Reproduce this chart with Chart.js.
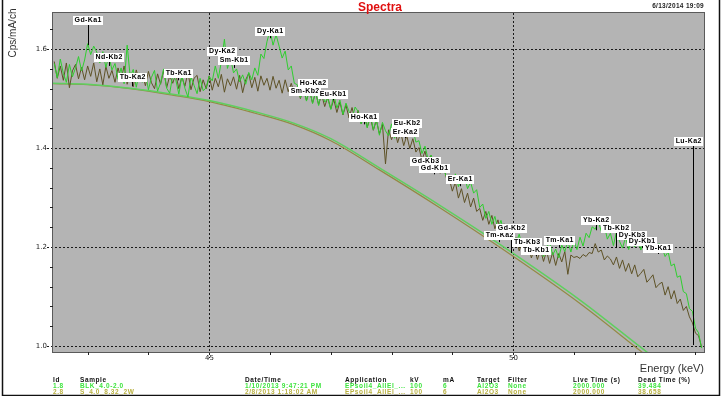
<!DOCTYPE html>
<html><head><meta charset="utf-8">
<script src="https://cdn.jsdelivr.net/npm/chart.js@4/dist/chart.umd.min.js"></script>
<style>html,body{margin:0;padding:0;background:#fff;}#wrap{width:721px;height:396px;position:relative;}</style>
</head><body><div id="wrap"><canvas id="c" width="721" height="396"></canvas></div>
<script>
// ---- data ----
const channelStart = 42.45, channelStep = 0.05; // spectrometer energy calibration (keV)
const blkCounts = [
1.571,1.542,1.580,1.551,1.533,1.569,1.544,1.562,1.585,1.556,
1.578,1.611,1.589,1.606,1.594,1.572,1.595,1.563,1.587,1.558,
1.571,1.539,1.562,1.530,1.608,1.544,1.559,1.523,1.552,1.533,
1.551,1.518,1.543,1.557,1.515,1.532,1.560,1.521,1.511,1.547,
1.538,1.509,1.546,1.521,1.503,1.544,1.527,1.510,1.541,1.516,
1.522,1.545,1.536,1.566,1.541,1.575,1.620,1.561,1.583,1.552,
1.560,1.534,1.548,1.529,1.553,1.538,1.562,1.547,1.590,1.581,
1.615,1.638,1.608,1.629,1.606,1.582,1.596,1.558,1.566,1.531,
1.528,1.502,1.523,1.495,1.519,1.490,1.514,1.486,1.517,1.493,
1.500,1.478,1.508,1.481,1.497,1.468,1.491,1.474,1.459,1.483,
1.474,1.449,1.466,1.441,1.470,1.437,1.459,1.426,1.452,1.435,
1.425,1.449,1.420,1.442,1.455,1.438,1.458,1.433,1.440,1.412,
1.415,1.389,1.404,1.378,1.386,1.368,1.377,1.351,1.359,1.343,
1.345,1.329,1.348,1.322,1.338,1.344,1.318,1.331,1.309,1.316,
1.280,1.287,1.258,1.272,1.246,1.262,1.237,1.254,1.229,1.245,
1.221,1.232,1.209,1.226,1.201,1.218,1.192,1.213,1.188,1.204,
1.206,1.181,1.199,1.210,1.184,1.196,1.178,1.204,1.191,1.212,
1.190,1.213,1.195,1.220,1.202,1.228,1.219,1.241,1.236,1.252,
1.232,1.244,1.216,1.228,1.203,1.231,1.212,1.198,1.220,1.195,
1.214,1.200,1.219,1.194,1.212,1.206,1.188,1.214,1.192,1.207,
1.199,1.181,1.190,1.162,1.166,1.139,1.142,1.110,1.106,1.076,
1.070,1.036,1.027,0.996];
const sampleCounts = [
1.575,1.541,1.566,1.537,1.572,1.522,1.556,1.569,1.540,1.563,
1.538,1.566,1.545,1.572,1.534,1.560,1.528,1.565,1.541,1.557,
1.533,1.562,1.539,1.566,1.529,1.552,1.524,1.558,1.535,1.551,
1.526,1.555,1.532,1.520,1.550,1.529,1.557,1.522,1.546,1.531,
1.550,1.520,1.544,1.525,1.553,1.518,1.541,1.547,1.514,1.538,
1.520,1.546,1.517,1.541,1.524,1.549,1.513,1.540,1.526,1.544,
1.519,1.547,1.512,1.538,1.551,1.522,1.543,1.515,1.546,1.527,
1.541,1.517,1.545,1.521,1.537,1.511,1.538,1.514,1.531,1.508,
1.524,1.500,1.520,1.496,1.517,1.491,1.512,1.488,1.508,1.484,
1.503,1.479,1.498,1.472,1.493,1.467,1.487,1.461,1.482,1.456,
1.476,1.449,1.468,1.442,1.462,1.436,1.456,1.429,1.448,1.368,
1.437,1.417,1.438,1.411,1.432,1.405,1.425,1.399,1.419,1.392,
1.401,1.376,1.394,1.367,1.385,1.358,1.376,1.349,1.367,1.340,
1.338,1.313,1.331,1.299,1.318,1.290,1.309,1.281,1.299,1.272,
1.278,1.254,1.272,1.246,1.264,1.237,1.255,1.229,1.247,1.221,
1.225,1.200,1.219,1.192,1.212,1.185,1.204,1.178,1.197,1.175,
1.195,1.171,1.192,1.167,1.189,1.163,1.187,1.170,1.191,1.145,
1.184,1.179,1.181,1.177,1.185,1.181,1.189,1.187,1.207,1.190,
1.194,1.174,1.182,1.176,1.164,1.180,1.157,1.174,1.151,1.167,
1.146,1.164,1.140,1.147,1.155,1.129,1.136,1.144,1.118,1.125,
1.129,1.103,1.120,1.095,1.112,1.086,1.095,1.072,1.080,1.059,
1.047,1.026,1.021,0.998];
const bgEnergy = [42.43,43.0,43.7,44.4,45.0,45.8,46.4,47.0,47.8,48.8,49.8,51.1,52.2,53.2];
const bgBlk    = [1.531,1.529,1.521,1.509,1.496,1.472,1.450,1.419,1.360,1.284,1.204,1.093,0.988,0.895];
const bgSample = [1.530,1.528,1.520,1.507,1.494,1.469,1.447,1.415,1.356,1.279,1.198,1.086,0.980,0.885];

const xTickValues = [43,44,45,46,47,48,49,50,51,52,53];
const xLabeled = [45,50];
const yTickValues = [1.00,1.04,1.08,1.12,1.16,1.20,1.24,1.28,1.32,1.36,1.40,1.44,1.48,1.52,1.56,1.60,1.64];
const yLabeled = [1.0,1.2,1.4,1.6];

const peakNames  = ['Gd-Ka1','Nd-Kb2','Tb-Ka2','Tb-Ka1','Dy-Ka2','Sm-Kb1','Dy-Ka1','Sm-Kb2','Ho-Ka2','Eu-Kb1','Ho-Ka1','Eu-Kb2','Er-Ka2','Gd-Kb3','Gd-Kb1','Er-Ka1','Tm-Ka2','Gd-Kb2','Tb-Kb3','Tb-Kb1','Tm-Ka1','Yb-Ka2','Tb-Kb2','Dy-Kb3','Dy-Kb1','Yb-Ka1','Lu-Ka2'];
const peakEnergy = [43.00,43.35,43.73,44.48,45.21,45.41,46.00,46.58,46.70,47.04,47.55,48.26,48.22,48.55,48.70,49.13,49.77,49.97,50.23,50.38,50.76,51.36,51.69,51.96,52.12,52.39,52.965];
const peakLabelLevel = [1.659,1.584,1.543,1.552,1.596,1.578,1.636,1.515,1.531,1.509,1.463,1.451,1.432,1.374,1.360,1.337,1.224,1.238,1.210,1.194,1.214,1.255,1.238,1.224,1.212,1.198,1.414];
const peakLineEnd    = [1.608,1.566,1.525,1.537,1.578,1.562,1.622,1.505,1.521,1.497,1.448,1.440,1.420,1.364,1.347,1.323,1.210,1.188,1.198,1.182,1.200,1.234,1.198,1.202,1.198,1.186,1.002];

const tableHeader = ['Id','Sample','Date/Time','Application','kV','mA','Target','Filter','Live Time (s)','Dead Time (%)'];
const tableRow1 = ['1.8','BLK_4.0-2.0','1/10/2013 9:47:21 PM','EPsoil4_AllEl_...','100','6','Al2O3','None','2000.000','39.484'];
const tableRow2 = ['2.8','S_4.0_8.32_2W','2/8/2013 1:18:02 AM','EPsoil4_AllEl_...','100','6','Al2O3','None','2000.000','38.658'];

// ---- build ----
const energies = blkCounts.map((_, i) => +(channelStart + i * channelStep).toFixed(3));
const pts = (xs, ys) => ys.map((v, i) => ({x: xs[i], y: v}));

const colX = [53,80,245,345,410,443,477,508,573,638];

const deco = {
  id: 'deco',
  beforeDatasetsDraw(chart) {
    const {ctx, chartArea: a, scales: {x, y}} = chart;
    ctx.save();
    ctx.fillStyle = '#b4b4b4';
    ctx.fillRect(a.left, a.top, a.right - a.left, a.bottom - a.top);
    ctx.strokeStyle = '#1a1a1a'; ctx.lineWidth = 1;
    ctx.setLineDash([2, 2]);
    xLabeled.forEach(v => { const p = Math.round(x.getPixelForValue(v)) + 0.5;
      ctx.beginPath(); ctx.moveTo(p, a.top); ctx.lineTo(p, a.bottom + 6); ctx.stroke(); });
    yLabeled.forEach(v => { const p = Math.round(y.getPixelForValue(v)) + 0.5;
      ctx.beginPath(); ctx.moveTo(a.left - 6, p); ctx.lineTo(a.right, p); ctx.stroke(); });
    ctx.setLineDash([]);
    ctx.restore();
  },
  afterDatasetsDraw(chart) {
    const {ctx, chartArea: a, scales: {x, y}} = chart;
    ctx.save();
    ctx.beginPath(); ctx.rect(a.left, a.top, a.right - a.left, a.bottom - a.top); ctx.clip();
    ctx.font = 'bold 7px "Liberation Sans", Arial, sans-serif';
    ctx.letterSpacing = '0.4px';
    ctx.textAlign = 'center'; ctx.textBaseline = 'middle';
    peakNames.forEach((n, i) => {
      const px = Math.round(x.getPixelForValue(peakEnergy[i])) + 0.5;
      const py = Math.round(y.getPixelForValue(peakLabelLevel[i]));
      const pe = y.getPixelForValue(peakLineEnd[i]);
      ctx.strokeStyle = '#000'; ctx.lineWidth = 1;
      ctx.beginPath(); ctx.moveTo(px, py + 4); ctx.lineTo(px, pe); ctx.stroke();
    });
    peakNames.forEach((n, i) => {
      const px = Math.round(x.getPixelForValue(peakEnergy[i]));
      const py = Math.round(y.getPixelForValue(peakLabelLevel[i]));
      const w = Math.round(ctx.measureText(n).width + 3);
      let bx = Math.round(px - w / 2);
      bx = Math.max(a.left + 1, Math.min(bx, a.right - w - 1));
      ctx.fillStyle = '#fff';
      ctx.fillRect(bx, py - 4, w, 9);
      ctx.fillStyle = '#000';
      ctx.fillText(n, bx + w / 2 + 0.2, py + 0.5);
    });
    ctx.restore();
    // plot border
    ctx.save();
    ctx.strokeStyle = '#5a5a5a'; ctx.lineWidth = 1;
    ctx.strokeRect(a.left - 0.5, a.top - 0.5, a.right - a.left + 1, a.bottom - a.top + 1);
    ctx.restore();
  },
  afterDraw(chart) {
    const {ctx, chartArea: a, scales: {x, y}} = chart;
    ctx.save();
    ctx.strokeStyle = '#222'; ctx.lineWidth = 1;
    // minor ticks
    xTickValues.forEach(v => { if (xLabeled.includes(v)) return;
      const p = Math.round(x.getPixelForValue(v)) + 0.5;
      ctx.beginPath(); ctx.moveTo(p, a.bottom); ctx.lineTo(p, a.bottom + 3); ctx.stroke(); });
    yTickValues.forEach(v => { if (yLabeled.some(l => Math.abs(l - v) < 1e-6)) return;
      const p = Math.round(y.getPixelForValue(v)) + 0.5;
      ctx.beginPath(); ctx.moveTo(a.left - 3, p); ctx.lineTo(a.left, p); ctx.stroke(); });
    // tick labels
    ctx.fillStyle = '#222';
    ctx.font = '7px "DejaVu Sans", sans-serif';
    ctx.textAlign = 'right'; ctx.textBaseline = 'middle';
    yLabeled.forEach(v => ctx.fillText(v.toFixed(1), a.left - 6, Math.round(y.getPixelForValue(v)) + 0.5));
    ctx.textAlign = 'center'; ctx.textBaseline = 'top';
    xLabeled.forEach(v => ctx.fillText(String(v), Math.round(x.getPixelForValue(v)) + 0.5, a.bottom + 3));
    // axis titles
    ctx.fillStyle = '#333';
    ctx.font = '11px "Liberation Sans", Arial, sans-serif';
    ctx.textAlign = 'right'; ctx.textBaseline = 'middle';
    ctx.fillText('Energy (keV)', 704, 369);
    ctx.save();
    ctx.translate(13, 33); ctx.rotate(-Math.PI / 2);
    ctx.font = '10px "Liberation Sans", Arial, sans-serif';
    ctx.textAlign = 'center';
    ctx.fillText('Cps/mA/ch', 0, 0);
    ctx.restore();
    // title & date
    ctx.fillStyle = '#e01010';
    ctx.font = 'bold 12px "Liberation Sans", Arial, sans-serif';
    ctx.textAlign = 'center'; ctx.textBaseline = 'alphabetic';
    ctx.fillText('Spectra', 380, 11);
    ctx.fillStyle = '#222';
    ctx.font = 'bold 6.5px "Liberation Sans", Arial, sans-serif';
    ctx.letterSpacing = '0.3px';
    ctx.textAlign = 'right';
    ctx.fillText('6/13/2014 19:09', 704, 8);
    // table
    ctx.textAlign = 'left';
    ctx.font = 'bold 6.5px "Liberation Sans", Arial, sans-serif';
    ctx.letterSpacing = '0.6px';
    const rows = [[tableHeader, '#111', 381.5], [tableRow1, '#3ee43e', 388], [tableRow2, '#b8b040', 394]];
    rows.forEach(([r, c, yy]) => { ctx.fillStyle = c; r.forEach((t, i) => ctx.fillText(t, colX[i], yy)); });
    ctx.letterSpacing = '0px';
    // outer frame
    ctx.strokeStyle = '#111'; ctx.lineWidth = 1.5;
    ctx.beginPath(); ctx.moveTo(2.5, 0); ctx.lineTo(2.5, 395.5); ctx.lineTo(719.5, 395.5); ctx.lineTo(719.5, 0); ctx.stroke();
    ctx.restore();
  }
};

new Chart(document.getElementById('c'), {
  type: 'line',
  data: {
    datasets: [
      {label: '1.8 BLK_4.0-2.0', data: pts(energies, blkCounts), borderColor: '#2fcf2f', borderWidth: 1, pointRadius: 0, tension: 0},
      {label: '2.8 S_4.0_8.32_2W', data: pts(energies, sampleCounts), borderColor: '#5e5226', borderWidth: 1, pointRadius: 0, tension: 0},
      {label: 'bg 1.8', data: pts(bgEnergy, bgBlk), borderColor: '#5fcf5f', borderWidth: 1.5, pointRadius: 0, cubicInterpolationMode: 'monotone'},
      {label: 'bg 2.8', data: pts(bgEnergy, bgSample), borderColor: '#948a44', borderWidth: 1.2, pointRadius: 0, cubicInterpolationMode: 'monotone'}
    ]
  },
  options: {
    responsive: false, animation: false, devicePixelRatio: 1,
    layout: {padding: {left: 53, top: 13, right: 17, bottom: 44}},
    plugins: {legend: {display: false}, tooltip: {enabled: false}},
    scales: {
      x: {type: 'linear', display: false, min: 42.43, max: 53.14},
      y: {type: 'linear', display: false, min: 0.988, max: 1.673}
    }
  },
  plugins: [deco]
});
</script></body></html>
